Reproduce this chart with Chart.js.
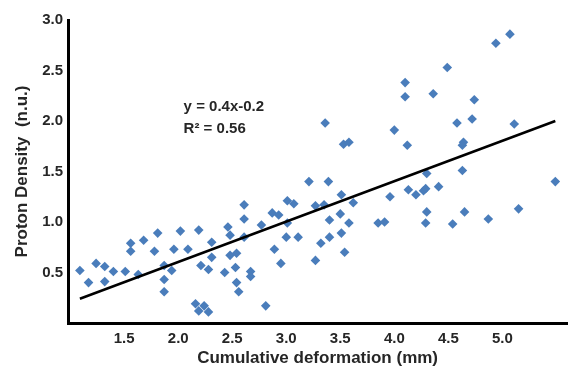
<!DOCTYPE html>
<html>
<head>
<meta charset="utf-8">
<script src="https://cdn.jsdelivr.net/npm/chart.js@4"></script>
<style>
  html, body { margin: 0; padding: 0; background: #ffffff; }
  #wrap { width: 572px; height: 370px; }
</style>
</head>
<body>
<div id="wrap"><canvas id="scatterChart"></canvas></div>
<script>
// 散布図のデータ
const deformX = [
  1.09, 1.17, 1.24, 1.32, 1.32, 1.40, 1.51, 1.56, 1.56, 1.63,
  1.68, 1.78, 1.81, 1.87, 1.87, 1.87, 1.94, 1.96, 2.02, 2.09,
  2.16, 2.19, 2.19, 2.21, 2.24, 2.28, 2.28, 2.31, 2.31, 2.43,
  2.46, 2.48, 2.48, 2.53, 2.54, 2.56, 2.54, 3.36, 3.53, 3.58,
  4.00, 3.21, 3.39, 3.51, 3.62, 3.96, 2.61, 3.01, 3.07, 3.27,
  3.35, 2.87, 2.93, 3.50, 2.61, 3.40, 3.58, 3.85, 3.91, 2.77,
  3.01, 2.61, 3.00, 3.11, 3.40, 3.51, 3.32, 3.54, 2.89, 2.67,
  2.67, 2.95, 3.27, 2.81, 5.07, 4.94, 4.49, 4.10, 4.10, 4.36,
  4.74, 4.12, 4.58, 4.72, 5.11, 4.64, 4.63, 4.30, 4.63, 5.49,
  4.13, 4.20, 4.27, 4.29, 4.41, 4.30, 4.65, 5.15, 4.29, 4.54,
  4.87
];
const densityY = [
  0.52, 0.40, 0.59, 0.56, 0.41, 0.51, 0.51, 0.79, 0.71, 0.48,
  0.82, 0.71, 0.89, 0.57, 0.43, 0.31, 0.52, 0.73, 0.91, 0.73,
  0.19, 0.12, 0.92, 0.57, 0.17, 0.11, 0.53, 0.80, 0.65, 0.50,
  0.95, 0.87, 0.67, 0.55, 0.40, 0.31, 0.69, 1.98, 1.77, 1.79,
  1.91, 1.40, 1.40, 1.27, 1.19, 1.25, 1.17, 1.21, 1.18, 1.16,
  1.17, 1.09, 1.07, 1.08, 1.03, 1.02, 0.99, 0.99, 1.00, 0.97,
  0.99, 0.85, 0.85, 0.85, 0.85, 0.89, 0.79, 0.70, 0.73, 0.51,
  0.46, 0.59, 0.62, 0.17, 2.86, 2.77, 2.53, 2.38, 2.24, 2.27,
  2.21, 1.76, 1.98, 2.02, 1.97, 1.79, 1.76, 1.48, 1.51, 1.40,
  1.32, 1.27, 1.31, 1.33, 1.35, 1.10, 1.10, 1.13, 0.99, 0.98,
  1.03
];

// 回帰直線の両端
const trendX = [1.09, 5.49];
const trendY = [0.24, 2.00];

// 目盛り
const xTicks = [1.5, 2.0, 2.5, 3.0, 3.5, 4.0, 4.5, 5.0];
const yTicks = [0.5, 1.0, 1.5, 2.0, 2.5, 3.0];

// 注釈
const noteLines = ['y = 0.4x-0.2', 'R\u00B2 = 0.56'];

const FONT = "'Liberation Sans', Arial, sans-serif";
const TEXT = '#262626';

const toPts = (xs, ys) => xs.map((x, i) => ({ x: x, y: ys[i] }));

// 注釈テキストを描くプラグイン
const notePlugin = {
    id: 'note',
    afterDatasetsDraw(chart) {
        const ctx = chart.ctx;
        const xs = chart.scales.x, ys = chart.scales.y;
        const px = xs.getPixelForValue(2.05);
        const rows = [2.14, 1.92];
        ctx.save();
        ctx.font = 'bold 15px ' + FONT;
        ctx.fillStyle = TEXT;
        ctx.textAlign = 'left';
        ctx.textBaseline = 'middle';
        noteLines.forEach((t, i) => ctx.fillText(t, px, ys.getPixelForValue(rows[i])));
        ctx.restore();
    }
};

new Chart(document.getElementById('scatterChart').getContext('2d'), {
    type: 'scatter',
    data: {
        datasets: [
            {
                label: 'trend',
                data: toPts(trendX, trendY),
                showLine: true,
                borderColor: '#000000',
                borderWidth: 2.5,
                pointRadius: 0,
                fill: false
            },
            {
                label: 'data',
                data: toPts(deformX, densityY),
                pointStyle: 'rectRot',
                pointRadius: 4.8,
                pointBorderWidth: 0,
                pointBackgroundColor: '#4a7dbb',
                borderColor: '#4a7dbb'
            }
        ]
    },
    options: {
        responsive: true,
        maintainAspectRatio: false,
        animation: false,
        layout: { padding: { top: 20, right: 0, bottom: 0, left: 0 } },
        plugins: {
            legend: { display: false },
            tooltip: { enabled: false }
        },
        scales: {
            x: {
                type: 'linear',
                min: 0.98, max: 5.6,
                afterBuildTicks: (s) => { s.ticks = xTicks.map(v => ({ value: v })); },
                afterFit: (s) => { s.height = 47; },
                grid: { display: false, drawTicks: false },
                border: { display: true, color: '#000000', width: 3 },
                ticks: {
                    padding: 7,
                    color: TEXT,
                    font: { family: FONT, size: 15, weight: 'bold' },
                    callback: (v) => Number(v).toFixed(1)
                },
                title: {
                    display: true,
                    text: 'Cumulative deformation (mm)',
                    color: TEXT,
                    font: { family: FONT, size: 17, weight: 'bold' },
                    padding: { top: 0, bottom: 1 }
                }
            },
            y: {
                type: 'linear',
                min: 0, max: 3,
                afterBuildTicks: (s) => { s.ticks = yTicks.map(v => ({ value: v })); },
                afterFit: (s) => { s.width = 68; },
                grid: { display: false, drawTicks: false },
                border: { display: true, color: '#000000', width: 3 },
                ticks: {
                    padding: 5,
                    color: TEXT,
                    font: { family: FONT, size: 15, weight: 'bold' },
                    callback: (v) => Number(v).toFixed(1)
                },
                title: {
                    display: true,
                    text: 'Proton Density  (n.u.)',
                    color: TEXT,
                    font: { family: FONT, size: 17, weight: 'bold' },
                    padding: { top: 12, bottom: 0 }
                }
            }
        }
    },
    plugins: [notePlugin]
});
</script>
</body>
</html>
